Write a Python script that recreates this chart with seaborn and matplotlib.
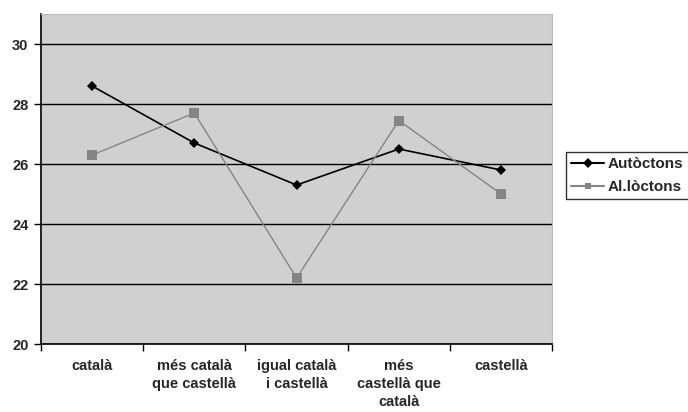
import pandas as pd
import seaborn as sns
import matplotlib.pyplot as plt
from matplotlib.ticker import FixedLocator

categories = ["català", "més català\nque castellà", "igual català\ni castellà",
              "més\ncastellà que\ncatalà", "castellà"]
autoctons = [28.6, 26.7, 25.3, 26.5, 25.8]
alloctons = [26.3, 27.7, 22.2, 27.45, 25.0]
series_names = ["Autòctons", "Al.lòctons"]

df = pd.DataFrame({
    "pos": list(range(len(categories))) * 2,
    "valor": autoctons + alloctons,
    "grup": [series_names[0]] * len(categories) + [series_names[1]] * len(categories),
})

sns.set_style("white")
plt.rcParams['font.family'] = ['Liberation Sans', 'DejaVu Sans']

fig = plt.figure(figsize=(6.88, 4.12), dpi=100)
ax = fig.add_axes([0.0596, 0.165, 0.743, 0.801])
ax.set_facecolor("#d0d0d0")

sns.lineplot(data=df, x="pos", y="valor", hue="grup", style="grup",
             palette={series_names[0]: "black", series_names[1]: "#858585"},
             markers={series_names[0]: "D", series_names[1]: "s"},
             dashes=False, markersize=6, markeredgewidth=0, ax=ax)
lines = ax.get_lines()
lines[0].set_linewidth(1.2)
lines[0].set_markersize(5.5)
lines[1].set_linewidth(1.0)
lines[1].set_markersize(7)

ax.set_xlim(-0.5, len(categories) - 0.5)
ax.set_ylim(20, 31)
ax.set_yticks([20, 22, 24, 26, 28, 30])
ax.yaxis.grid(True, color="black", linewidth=1)
ax.set_axisbelow(True)

ax.xaxis.set_major_locator(FixedLocator([i - 0.5 for i in range(len(categories) + 1)]))
ax.xaxis.set_minor_locator(FixedLocator(list(range(len(categories)))))
ax.set_xticklabels([""] * (len(categories) + 1))
ax.set_xticklabels(categories, minor=True, fontweight="bold", fontsize=10.5, linespacing=1.35)
ax.tick_params(axis="x", which="major", length=5, width=1, color="black", direction="out", bottom=True)
ax.tick_params(axis="x", which="minor", length=0, pad=11)
ax.tick_params(axis="y", length=5, width=1, color="black", direction="out", left=True, labelsize=10.5, pad=4)
for lbl in ax.get_yticklabels():
    lbl.set_fontweight("bold")

ax.spines["left"].set_color("black")
ax.spines["bottom"].set_color("black")
ax.spines["left"].set_linewidth(1.2)
ax.spines["bottom"].set_linewidth(1.2)
ax.spines["top"].set_color("#bbbbbb")
ax.spines["right"].set_color("#bbbbbb")

ax.set_xlabel("")
ax.set_ylabel("")

leg = ax.legend(loc="upper left", bbox_to_anchor=(0.822, 0.632), bbox_transform=fig.transFigure,
                frameon=True, fancybox=False, edgecolor="black",
                prop={"weight": "bold", "size": 11},
                handlelength=2.2, handletextpad=0.2, borderpad=0.35, labelspacing=0.6,
                borderaxespad=0, markerscale=0.8)
leg.get_frame().set_linewidth(1)

fig.savefig("out.png", dpi=100)
